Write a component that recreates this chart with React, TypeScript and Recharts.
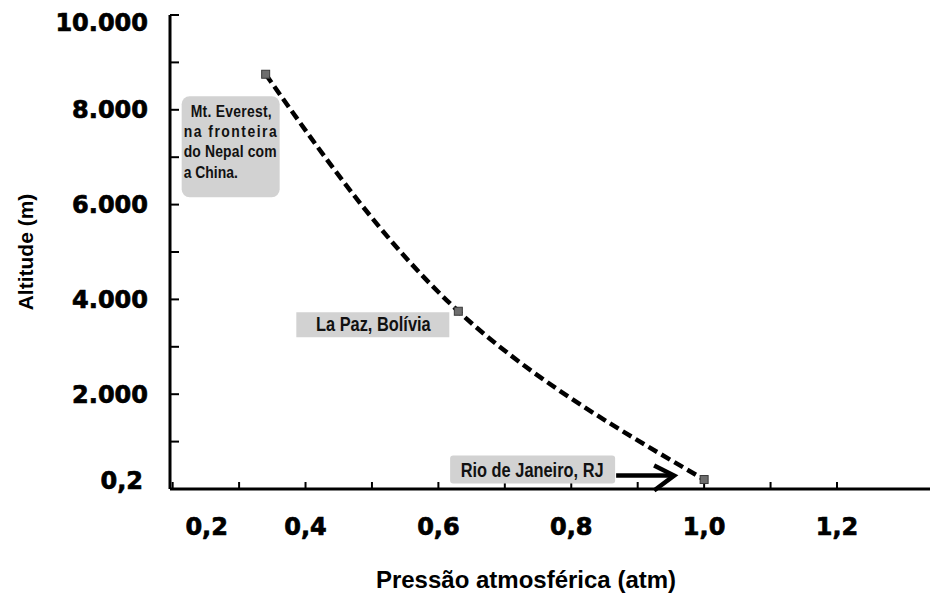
import React from 'react';
import { ComposedChart, Line, XAxis, YAxis, Label, LabelList } from 'recharts';

const places = ['Mt. Everest', 'La Paz, Bolívia', 'Rio de Janeiro, RJ'];
const pressures = [0.34, 0.63, 1.0];
const altitudes = [8750, 3750, 200];

const xTicks = [0.2, 0.3, 0.4, 0.5, 0.6, 0.7, 0.8, 0.9, 1.0, 1.1, 1.2];
const xTickLabels = ['0,2', '', '0,4', '', '0,6', '', '0,8', '', '1,0', '', '1,2'];
const yTicks = [0, 1000, 2000, 3000, 4000, 5000, 6000, 7000, 8000, 9000, 10000];
const yTickLabels = ['0,2', '', '2.000', '', '4.000', '', '6.000', '', '8.000', '', '10.000'];

const everestNote = ['Mt. Everest,', 'na fronteira', 'do Nepal com', 'a China.'];

const data = places.map((name, i) => ({ name, pressure: pressures[i], altitude: altitudes[i] }));

const tickFont = {
  fontFamily: 'DejaVu Sans',
  fontWeight: 'bold' as const,
  fontSize: 24,
  fill: '#000',
  stroke: '#000',
  strokeWidth: 0.7,
};
const boxFill = '#d2d2d2';
const NARROW = 0.82;

// Arial Narrow is not installed, so squeeze Liberation Sans horizontally
const NarrowText = ({ x, y, size, anchor = 'start', width, children }: any) => (
  <g transform={`translate(${x},${y}) scale(${NARROW},1)`}>
    <text
      x={0}
      y={0}
      fontSize={size}
      textAnchor={anchor}
      textLength={width ? width / NARROW : undefined}
      lengthAdjust={width ? 'spacing' : undefined}
      fontFamily="'Liberation Sans', Arial, sans-serif"
      fontWeight="bold"
      fill="#111"
    >
      {children}
    </text>
  </g>
);

const XTick = (props: any) => {
  const { x, y, payload } = props;
  const label = xTickLabels[xTicks.indexOf(payload.value)];
  if (!label) return null;
  // first label sits right of the y axis
  const shift = payload.value === 0.2 ? 34 : 0;
  return (
    <text x={x + shift} y={y} dy="0.73em" textAnchor="middle" {...tickFont}>
      {label}
    </text>
  );
};

const YTick = (props: any) => {
  const { x, y, payload } = props;
  const label = yTickLabels[yTicks.indexOf(payload.value)];
  if (!label) return null;
  let dy = 0;
  let dx = 0;
  if (payload.value === 10000) dy = 7;
  if (payload.value === 0) {
    dy = -9;
    dx = -5;
  }
  return (
    <text x={x + dx} y={y + dy} dy="0.36em" textAnchor="end" {...tickFont}>
      {label}
    </text>
  );
};

const SquareDot = (props: any) => {
  const { cx, cy, index } = props;
  if (cx == null || cy == null) return null;
  return (
    <rect
      key={`dot-${index}`}
      x={cx - 4}
      y={cy - 4}
      width={8}
      height={8}
      fill="#6e6e6e"
      stroke="#3a3a3a"
      strokeWidth={1}
      strokeDasharray="none"
    />
  );
};

const renderNote = (props: any) => {
  const x = props.x ?? props.viewBox?.x;
  const y = props.y ?? props.viewBox?.y;
  const { index } = props;
  if (x == null || y == null) return null;

  if (index === 0) {
    return (
      <g>
        <rect x={x - 84} y={y + 22} width={98} height={101} rx={8} fill={boxFill} />
        <NarrowText x={x - 75} y={y + 43} size={17} width={81}>
          {everestNote[0]}
        </NarrowText>
        <NarrowText x={x - 82} y={y + 63} size={17} width={93}>
          {everestNote[1]}
        </NarrowText>
        <NarrowText x={x - 82} y={y + 83} size={17} width={93}>
          {everestNote[2]}
        </NarrowText>
        <NarrowText x={x - 82} y={y + 104} size={17}>
          {everestNote[3]}
        </NarrowText>
      </g>
    );
  }
  if (index === 1) {
    return (
      <g>
        <rect x={x - 162} y={y + 1} width={153} height={25} fill={boxFill} />
        <NarrowText x={x - 85} y={y + 20} size={20} anchor="middle">
          {places[1]}
        </NarrowText>
      </g>
    );
  }
  return (
    <g>
      <rect x={x - 254} y={y - 24} width={165} height={28} rx={3} fill={boxFill} />
      <NarrowText x={x - 172} y={y - 3} size={20} anchor="middle">
        {places[2]}
      </NarrowText>
      <line x1={x - 88} y1={y - 4} x2={x - 31} y2={y - 4} stroke="#000" strokeWidth={4.5} />
      <polyline
        points={`${x - 50},${y - 14} ${x - 30},${y - 4} ${x - 50},${y + 11}`}
        fill="none"
        stroke="#000"
        strokeWidth={4.5}
      />
    </g>
  );
};

export default function App() {
  return (
    <div style={{ width: 930, height: 599, background: '#fff' }}>
      <style>{'body{margin:0}'}</style>
      <ComposedChart width={930} height={599} data={data} margin={{ top: 15, right: 0, bottom: 0, left: 0 }}>
        <XAxis
          type="number"
          dataKey="pressure"
          domain={[0.196, 1.34]}
          ticks={xTicks}
          interval={0}
          allowDataOverflow
          axisLine={{ stroke: '#000', strokeWidth: 3 }}
          tickLine={{ stroke: '#000', strokeWidth: 2 }}
          tickSize={-7}
          tickMargin={35}
          height={110}
          tick={<XTick />}
        >
          <Label
            content={(p: any) => {
              const vb = p.viewBox || {};
              return (
                <text
                  x={526}
                  y={(vb.y ?? 489) + 99}
                  textAnchor="middle"
                  fontFamily="'Liberation Sans', Arial, sans-serif"
                  fontWeight="bold"
                  fontSize={24}
                  fill="#000"
                >
                  Pressão atmosférica (atm)
                </text>
              );
            }}
          />
        </XAxis>
        <YAxis
          type="number"
          domain={[0, 10000]}
          ticks={yTicks}
          interval={0}
          allowDataOverflow
          width={170}
          axisLine={{ stroke: '#000', strokeWidth: 3 }}
          tickLine={{ stroke: '#000', strokeWidth: 2 }}
          tickSize={-9}
          tickMargin={31}
          tick={<YTick />}
        >
          <Label
            content={(p: any) => {
              const vb = p.viewBox || {};
              const cy = (vb.y ?? 15) + (vb.height ?? 474) / 2;
              return (
                <text
                  x={25}
                  y={cy}
                  transform={`rotate(-90 25 ${cy})`}
                  textAnchor="middle"
                  dominantBaseline="central"
                  fontFamily="'Liberation Sans', Arial, sans-serif"
                  fontWeight="bold"
                  fontSize={21}
                  fill="#000"
                >
                  Altitude (m)
                </text>
              );
            }}
          />
        </YAxis>
        <Line
          dataKey="altitude"
          type="natural"
          stroke="#000"
          strokeWidth={4.5}
          strokeDasharray="10 5"
          dot={<SquareDot />}
          activeDot={false}
          isAnimationActive={false}
        >
          <LabelList dataKey="name" content={renderNote} />
        </Line>
      </ComposedChart>
    </div>
  );
}
